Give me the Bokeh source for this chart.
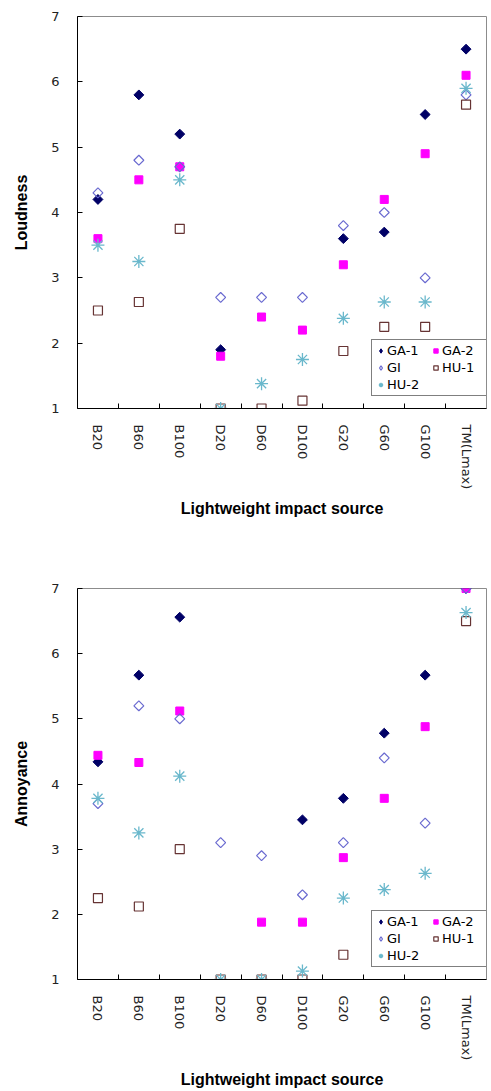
import math
from bokeh.plotting import figure
from bokeh.models import Range1d, FixedTicker, Legend, LegendItem
from bokeh.layouts import column
from bokeh.embed import file_html
from bokeh.resources import INLINE

nan = float("nan")

categories = ["B20", "B60", "B100", "D20", "D60", "D100", "G20", "G60", "G100", "TM(Lmax)"]
series_names = ["GA-1", "GA-2", "GI", "HU-1", "HU-2"]

# Loudness (top chart)
loud_ga1 = [4.2, 5.8, 5.2, 1.9, nan, nan, 3.6, 3.7, 5.5, 6.5]
loud_ga2 = [3.6, 4.5, 4.7, 1.8, 2.4, 2.2, 3.2, 4.2, 4.9, 6.1]
loud_gi = [4.3, 4.8, 4.7, 2.7, 2.7, 2.7, 3.8, 4.0, 3.0, 5.8]
loud_hu1 = [2.5, 2.63, 3.75, 1.0, 1.0, 1.12, 1.88, 2.25, 2.25, 5.65]
loud_hu2 = [3.5, 3.25, 4.5, 1.0, 1.38, 1.75, 2.38, 2.63, 2.63, 5.9]

# Annoyance (bottom chart)
ann_ga1 = [4.34, 5.67, 6.56, nan, nan, 3.45, 3.78, 4.78, 5.67, 7.0]
ann_ga2 = [4.44, 4.33, 5.12, nan, 1.88, 1.88, 2.87, 3.78, 4.88, 7.0]
ann_gi = [3.7, 5.2, 5.0, 3.1, 2.9, 2.3, 3.1, 4.4, 3.4, 7.0]
ann_hu1 = [2.25, 2.12, 3.0, 1.0, 1.0, 1.0, 1.38, nan, nan, 6.5]
ann_hu2 = [3.78, 3.25, 4.12, 1.0, 1.0, 1.13, 2.25, 2.38, 2.63, 6.63]

y_ticks = [1, 2, 3, 4, 5, 6, 7]

styles = {
    "GA-1": dict(marker="square", angle=math.pi / 4, size=7, fill_color="#000066", line_color="#000066"),
    "GA-2": dict(marker="square", angle=0, size=8, fill_color="#ff00ff", line_color="#ff00ff"),
    "GI": dict(marker="square", angle=math.pi / 4, size=7, fill_color=None, line_color="#6a6ad0", line_width=1.2),
    "HU-1": dict(marker="square", angle=0, size=9, fill_color=None, line_color="#663333", line_width=1.2),
    "HU-2": dict(marker="asterisk", angle=0, size=13, line_color="#6ab8cc", line_width=1.3),
}

# legend swatches (the legend does not rotate markers, so diamonds are drawn directly)
legend_styles = {
    "GA-1": dict(marker="diamond", size=12, fill_color="#000066", line_color="#000066"),
    "GI": dict(marker="diamond", size=12, fill_color=None, line_color="#6a6ad0", line_width=1.2),
}


def make_chart(ylabel, values, width, height, left, right, top, bottom):
    n = len(categories)
    xs = [i + 0.5 for i in range(n)]
    p = figure(width=width, height=height, output_backend="svg", toolbar_location=None,
               x_range=Range1d(0, n), y_range=Range1d(1, 7),
               min_border_left=left, min_border_right=right,
               min_border_top=top, min_border_bottom=bottom)
    p.background_fill_color = "white"
    p.border_fill_color = "white"
    p.outline_line_color = "#8c8c8c"
    p.outline_line_width = 1
    p.xgrid.visible = False
    p.ygrid.visible = False

    items = []
    for name, vals in zip(series_names, values):
        r = p.scatter(x=xs, y=vals, **styles[name])
        if name in legend_styles:
            # swatch-only renderer: one point with no position, so nothing is drawn in the plot
            r = p.scatter(x=[nan], y=[nan], **legend_styles[name])
        items.append(LegendItem(label=name, renderers=[r]))

    # x axis: labels at category centres, ticks between categories
    xa = p.xaxis[0]
    xa.ticker = FixedTicker(ticks=xs, minor_ticks=list(range(1, n)))
    xa.major_label_overrides = {x: c for x, c in zip(xs, categories)}
    xa.major_tick_line_color = None
    xa.minor_tick_in = 5
    xa.minor_tick_out = 0
    xa.minor_tick_line_color = "black"
    xa.axis_line_color = "black"
    xa.major_label_orientation = "vertical"
    xa.major_label_standoff = 10
    xa.major_label_text_font = "DejaVu Sans"
    xa.major_label_text_font_size = "13px"
    xa.major_label_text_color = "#222222"
    xa.axis_label = "Lightweight impact source"
    xa.axis_label_text_font = "Liberation Sans"
    xa.axis_label_text_font_style = "bold"
    xa.axis_label_text_font_size = "16px"
    xa.axis_label_text_color = "black"
    xa.axis_label_standoff = 8

    ya = p.yaxis[0]
    ya.ticker = FixedTicker(ticks=y_ticks)
    ya.major_tick_in = 5
    ya.major_tick_out = 0
    ya.minor_tick_line_color = None
    ya.axis_line_color = "black"
    ya.major_label_standoff = 18
    ya.major_label_text_font = "DejaVu Sans"
    ya.major_label_text_font_size = "13px"
    ya.major_label_text_color = "#222222"
    ya.axis_label = ylabel
    ya.axis_label_text_font = "Liberation Sans"
    ya.axis_label_text_font_style = "bold"
    ya.axis_label_text_font_size = "16px"
    ya.axis_label_text_color = "black"
    ya.axis_label_standoff = 18

    legend = Legend(items=items, location=(294, 12), orientation="horizontal", ncols=2,
                    label_text_font="DejaVu Sans", label_text_font_size="13px",
                    label_text_color="black", label_standoff=1, label_width=41,
                    label_height=13, glyph_width=11, glyph_height=13,
                    padding=3, spacing=2, margin=0,
                    border_line_color="black", border_line_width=1,
                    background_fill_color="white", background_fill_alpha=1.0)
    p.add_layout(legend)
    return p


top = make_chart("Loudness", [loud_ga1, loud_ga2, loud_gi, loud_hu1, loud_hu2],
                 width=491, height=540, left=77, right=2, top=16, bottom=132)
bottom = make_chart("Annoyance", [ann_ga1, ann_ga2, ann_gi, ann_hu1, ann_hu2],
                    width=491, height=551, left=69, right=5, top=48, bottom=111)

layout = column(top, bottom, spacing=0)
open("out.html", "w").write(file_html(layout, INLINE))
